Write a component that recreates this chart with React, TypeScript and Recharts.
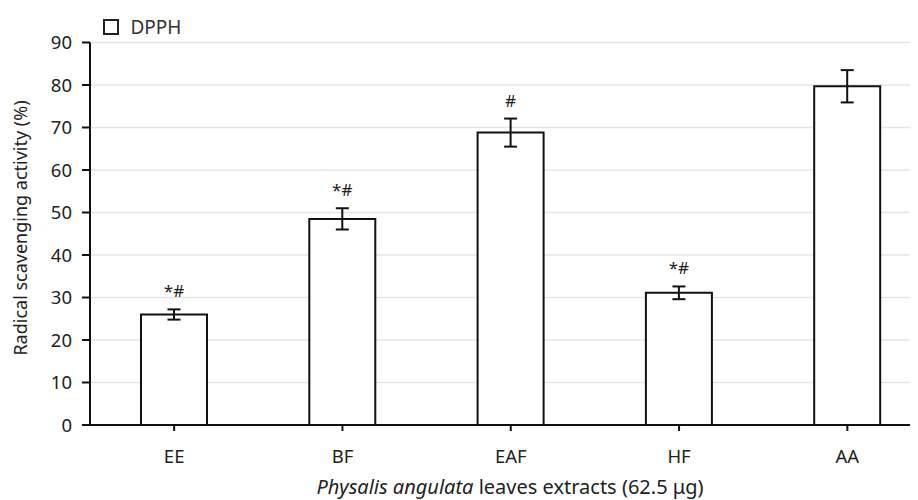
import React from 'react';
import { BarChart, Bar, XAxis, YAxis, CartesianGrid, ErrorBar, LabelList, Label } from 'recharts';

// values
const categories = ['EE', 'BF', 'EAF', 'HF', 'AA'];
const dpph = [26, 48.5, 68.8, 31.1, 79.7];
const dpphErr = [1.2, 2.5, 3.3, 1.5, 3.8];
const marks = ['*#', '*#', '#', '*#', ''];
const yTicks = [0, 10, 20, 30, 40, 50, 60, 70, 80, 90];

const data = categories.map((name, i) => ({ name, dpph: dpph[i], err: dpphErr[i], mark: marks[i] }));

const FONT = '"Noto Sans", "Open Sans", sans-serif';

const MarkLabel = (props: any) => {
  const { x, y, width, height, index } = props;
  const mark = marks[index];
  if (!mark) return null;
  const pxPerUnit = height / dpph[index];
  const top = y - dpphErr[index] * pxPerUnit;
  return (
    <text x={x + width / 2} y={top - 12} textAnchor="middle" fontSize={17} fill="#222" fontFamily={FONT}>
      {mark}
    </text>
  );
};

export default function App() {
  return (
    <div style={{ width: 910, height: 492, overflow: 'hidden', position: 'relative' }}>
      {/* legend */}
      <div
        style={{
          position: 'absolute',
          top: 6,
          left: 94.5,
          display: 'flex',
          alignItems: 'center',
          fontFamily: FONT,
          fontSize: 19,
          color: '#333',
          zIndex: 1,
        }}
      >
        <span style={{ display: 'inline-block', width: 12, height: 12, border: '2px solid #222', background: '#fff', marginRight: 12 }} />
        DPPH
      </div>
      <BarChart
        width={940}
        height={492}
        data={data}
        margin={{ top: 34.5, right: 16.5, left: 12, bottom: 0 }}
        style={{ fontFamily: FONT }}
      >
        <CartesianGrid horizontal vertical={false} stroke="#e6e6e6" strokeWidth={1.5} />
        <XAxis
          dataKey="name"
          axisLine={{ stroke: '#111', strokeWidth: 2 }}
          tickLine={{ stroke: '#111', strokeWidth: 2 }}
          tickSize={6}
          tickMargin={19}
          tick={{ fill: '#222', fontSize: 18.5 }}
          height={75}
        >
          <Label
            content={() => (
              <text x={502} y={486} textAnchor="middle" fontSize={20} fill="#222" fontFamily={FONT}>
                <tspan fontStyle="italic">Physalis angulata</tspan>
                <tspan> leaves extracts (62.5 μg)</tspan>
              </text>
            )}
          />
        </XAxis>
        <YAxis
          domain={[0, 90]}
          ticks={yTicks}
          width={70}
          axisLine={{ stroke: '#111', strokeWidth: 2 }}
          tickLine={{ stroke: '#111', strokeWidth: 2 }}
          tickSize={8}
          tickMargin={10}
          tick={{ fill: '#222', fontSize: 18.5 }}
        >
          <Label
            content={() => (
              <text
                x={12}
                y={220}
                transform="rotate(-90 12 220)"
                textAnchor="middle"
                dominantBaseline="central"
                fontSize={18}
                fill="#222"
                fontFamily={FONT}
              >
                Radical scavenging activity (%)
              </text>
            )}
          />
        </YAxis>
        <Bar dataKey="dpph" fill="#fff" stroke="#111" strokeWidth={2} barSize={66} isAnimationActive={false}>
          <ErrorBar dataKey="err" width={6.5} stroke="#111" strokeWidth={2} isAnimationActive={false} />
          <LabelList dataKey="dpph" content={MarkLabel} />
        </Bar>
      </BarChart>
    </div>
  );
}
